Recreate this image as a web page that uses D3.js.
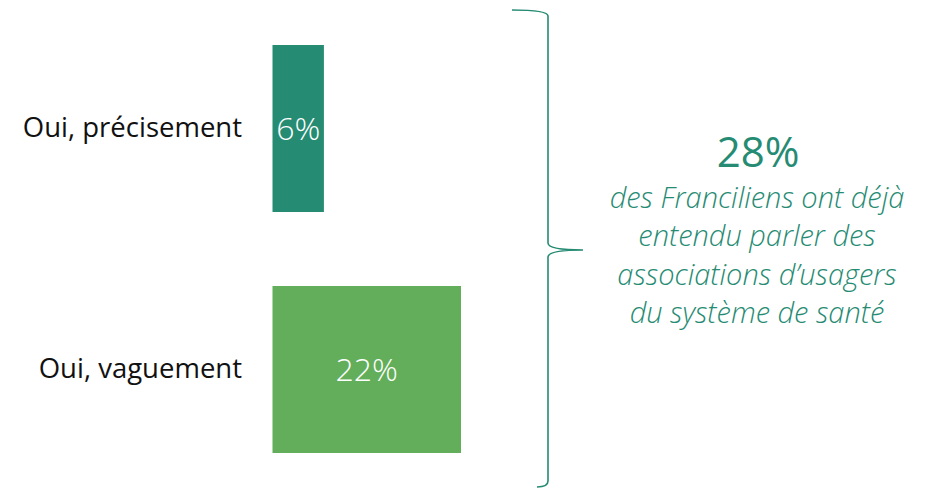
<!DOCTYPE html>
<html>
<head>
<meta charset="utf-8">
<script src="https://cdn.jsdelivr.net/npm/d3@7"></script>
<style>
  body { margin: 0; background: #fff; }
  svg { display: block; }
</style>
</head>
<body>
<svg id="chart"></svg>
<script>
// données
var categories = ["Oui, précisement", "Oui, vaguement"];
var values = [6, 22];
var valueLabels = ["6%", "22%"];
var barColors = ["#268b73", "#63ae5a"];
var totalLabel = "28%";
var noteLines = ["des Franciliens ont déjà", "entendu parler des", "associations d’usagers", "du système de santé"];

var size = { width: 935, height: 488 };
var teal = "#268b73";

var svg = d3.select("#chart")
  .attr("width", size.width)
  .attr("height", size.height);

// échelles
var x = d3.scaleLinear()
  .domain([0, 22])
  .range([272.5, 461]);

var y = d3.scaleBand()
  .domain(categories)
  .range([45, 453])
  .paddingInner(0.307)
  .paddingOuter(0);

var rows = categories.map(function(c, i){
  return { cat: c, value: values[i], label: valueLabels[i], color: barColors[i] };
});

// barres
svg.selectAll("rect.bar")
  .data(rows)
  .enter()
  .append("rect")
  .attr("class", "bar")
  .attr("x", x(0))
  .attr("y", function(d){ return y(d.cat); })
  .attr("width", function(d){ return x(d.value) - x(0); })
  .attr("height", y.bandwidth())
  .attr("fill", function(d){ return d.color; });

// catégories
svg.selectAll("text.cat")
  .data(rows)
  .enter()
  .append("text")
  .attr("class", "cat")
  .attr("x", 242)
  .attr("y", function(d){ return y(d.cat) + y.bandwidth() / 2 + 8.5; })
  .attr("text-anchor", "end")
  .style("font-family", "'Open Sans', sans-serif")
  .style("font-size", "27.5px")
  .attr("fill", "#111")
  .text(function(d){ return d.cat; });

// valeurs
svg.selectAll("text.val")
  .data(rows)
  .enter()
  .append("text")
  .attr("class", "val")
  .attr("x", function(d){ return (x(0) + x(d.value)) / 2; })
  .attr("y", function(d){ return y(d.cat) + y.bandwidth() / 2 + 11.5; })
  .attr("text-anchor", "middle")
  .style("font-family", "'Open Sans', sans-serif")
  .style("font-weight", 300)
  .style("font-size", "32px")
  .attr("fill", "#fff")
  .text(function(d){ return d.label; });

// accolade
var brace = d3.path();
brace.moveTo(512, 10);
brace.bezierCurveTo(530, 10, 548, 11, 548, 16);
brace.lineTo(548, 243);
brace.bezierCurveTo(548, 248, 560, 250, 583, 250);
brace.bezierCurveTo(560, 250, 548, 252, 548, 257);
brace.lineTo(548, 481);
brace.bezierCurveTo(548, 485, 544, 487, 537, 487);

svg.append("path")
  .attr("d", brace.toString())
  .attr("fill", "none")
  .attr("stroke", teal)
  .attr("stroke-width", 1.6);

// texte de droite
svg.append("text")
  .attr("x", 758)
  .attr("y", 167)
  .attr("text-anchor", "middle")
  .style("font-family", "'Open Sans', sans-serif")
  .style("font-size", "42px")
  .attr("fill", teal)
  .text(totalLabel);

svg.selectAll("text.note")
  .data(noteLines)
  .enter()
  .append("text")
  .attr("class", "note")
  .attr("x", 757)
  .attr("y", function(d, i){ return 208 + i * 38.3; })
  .attr("text-anchor", "middle")
  .style("font-family", "'Open Sans', sans-serif")
  .style("font-style", "italic")
  .style("font-weight", 300)
  .style("font-size", "29px")
  .attr("fill", teal)
  .text(function(d){ return d; });
</script>
</body>
</html>
